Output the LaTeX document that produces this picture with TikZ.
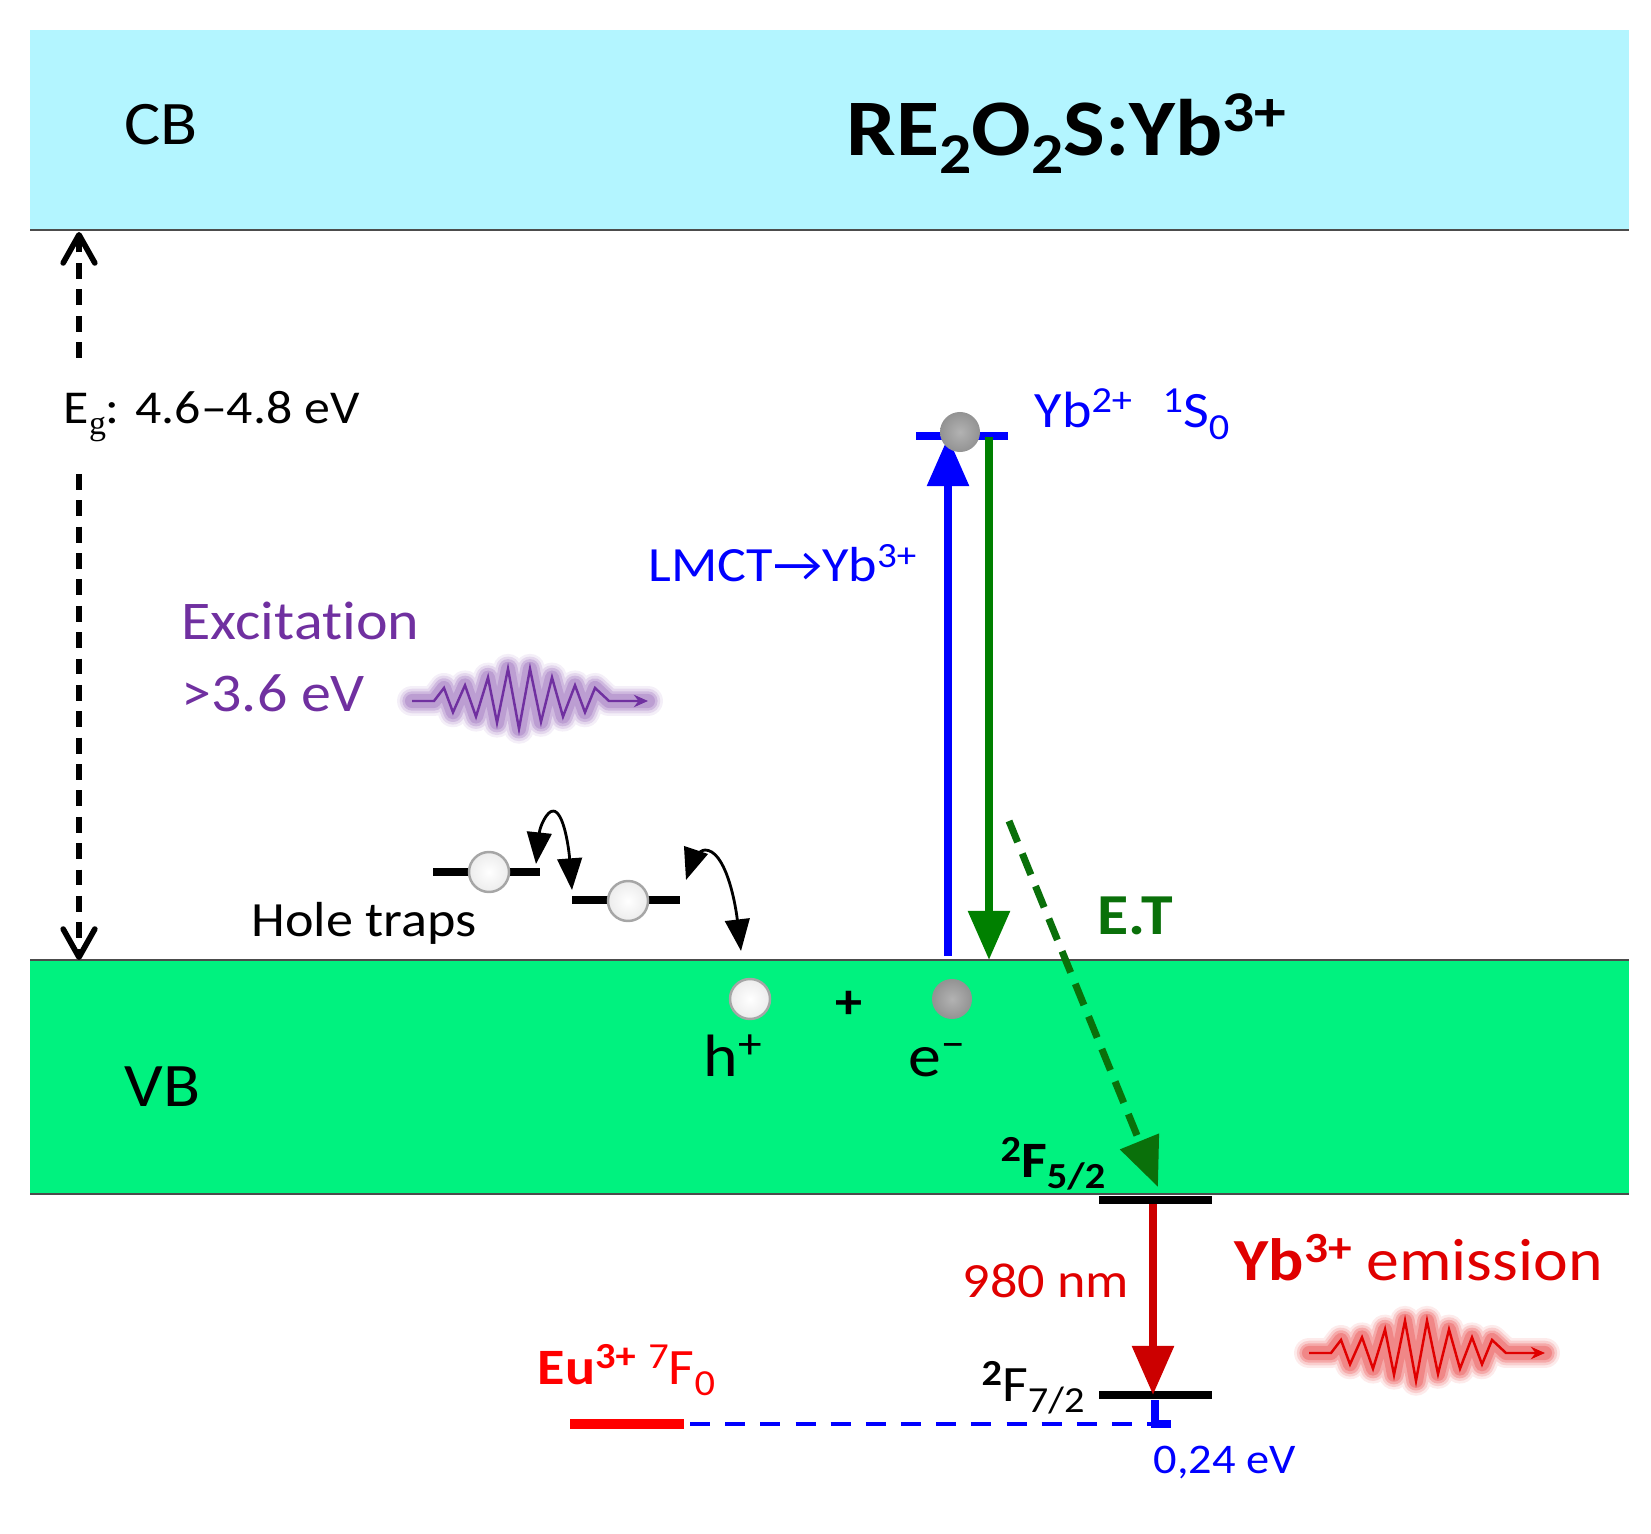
\documentclass[tikz,border=0pt]{standalone}
\usepackage{fontspec}
\setmainfont[FakeStretch=1.1,Ligatures=NoCommon]{Carlito}
\newfontfamily\subserif{Liberation Serif}
\usetikzlibrary{arrows.meta}
\definecolor{cbfill}{HTML}{B3F5FF}
\definecolor{vbfill}{HTML}{00F27F}
\definecolor{excviolet}{HTML}{7030A0}
\definecolor{etgreen}{HTML}{008000}
\definecolor{etdark}{HTML}{0A700A}
\definecolor{emred}{HTML}{E00000}
\definecolor{arrowred}{HTML}{CC0000}
\newcommand{\fs}[1]{\fontsize{#1}{#1}\selectfont}
\makeatletter
\newcommand{\smallsize}{\fontsize{\strip@pt\dimexpr.72\dimexpr\f@size pt\relax\relax}{0}\selectfont}
\makeatother
\newcommand{\up}[1]{\raisebox{.3em}{\smallsize #1}}
\newcommand{\dn}[1]{\raisebox{-.22em}{\smallsize #1}}
\newcommand{\wavepath}{(0,0) -- (22,0) -- (32,-15) -- (41,13) -- (53,-18) -- (64,18) -- (76,-27) -- (85,25) -- (96,-37) -- (107,32) -- (118,-37) -- (129,24) -- (140,-27) -- (151,18) -- (163,-18) -- (173,13) -- (183,-15) -- (197,0) -- (236,0)}
\newcommand{\wavepulse}[2]{
  \begin{scope}[shift={#1}, yscale=.87]
    \foreach \glow/\veil in {8.5pt/.08, 7pt/.12, 5.5pt/.18, 4pt/.2}
      \draw[#2, line width=\glow, opacity=\veil, line join=round, line cap=round] \wavepath;
    \draw[#2, line width=.7pt, -{Stealth[length=4pt,width=3.5pt]}] \wavepath;
  \end{scope}
}
\tikzset{
  lab/.style={anchor=base west, inner sep=0pt},
  level/.style={line width=2.3pt},
  holeball/.style={circle, minimum size=40*0.2845pt, inner sep=0pt, shade, shading=radial, inner color=white, outer color=gray!15, draw=gray!70, line width=.7pt},
  elecball/.style={circle, minimum size=40*0.2845pt, inner sep=0pt, shade, shading=radial, inner color=gray!60, outer color=gray!85},
  bigarrow/.style={line width=2.3pt, -{Triangle[length=14pt,width=11.5pt]}},
  hop/.style={black, line width=.8pt, -{Triangle[length=9pt,width=7pt]}},
  gapdash/.style={black, line width=1.6pt, dash pattern=on 4.5pt off 3pt, -{Straight Barb[length=8pt,width=9pt,round]}}
}
\begin{document}
\begin{tikzpicture}[x=0.01cm, y=-0.01cm]
\useasboundingbox (0,0) rectangle (1651,1534);

\fill[cbfill] (30,30) rectangle (1629,230);
\fill[vbfill] (30,960) rectangle (1629,1194);
\draw[black!70, line width=.5pt] (30,230) -- (1629,230);
\draw[black!70, line width=.5pt] (30,960) -- (1629,960);
\draw[black!70, line width=.5pt] (30,1194) -- (1629,1194);

\node[lab, font=\fs{17.6}] (cb) at (124,145) {CB};
\node[lab, font=\fs{17.6}] (vb) at (124,1106) {VB};
\node[lab, font=\fs{22.8}\bfseries] (title) at (846,156) {RE\dn{2}O\dn{2}S:Yb\up{3+}};

\coordinate (egtop) at (79,232);
\coordinate (egupper) at (79,358);
\coordinate (eglower) at (79,474);
\coordinate (egbot) at (79,960);
\draw[gapdash] (egupper) -- (egtop);
\draw[gapdash] (eglower) -- (egbot);
\node[lab, font=\fs{13.4}] (eg) at (63,424) {E\dn{\subserif g}: 4.6–4.8 eV};

\coordinate (ybl) at (916,436);
\coordinate (ybr) at (1008,436);
\draw[blue, level] (ybl) -- (ybr);
\coordinate (lmctfoot) at (948,956);
\coordinate (lmcttip) at (948,437);
\draw[blue, bigarrow] (lmctfoot) -- (lmcttip);
\coordinate (ettop) at (989,437);
\coordinate (etfoot) at (989,960);
\draw[etgreen, bigarrow] (ettop) -- (etfoot);
\node[elecball] (ybball) at (960,432) {};
\node[lab, blue, font=\fs{14.5}] (yblab) at (1034,428) {Yb\up{2+}\hspace{.6em}\up{1}S\dn{0}};
\node[lab, blue, font=\fs{14}] (lmct) at (648,582) {LMCT→Yb\up{3+}};

\node[lab, excviolet, font=\fs{15.5}] (exc) at (181,640) {Excitation};
\node[lab, excviolet, font=\fs{15.5}] (excev) at (181,712) {>3.6 eV};
\wavepulse{(412,701)}{excviolet}

\coordinate (traponel) at (433,872);
\coordinate (traponer) at (540,872);
\coordinate (traptwol) at (572,900);
\coordinate (traptwor) at (680,900);
\draw[level] (traponel) -- (traponer);
\draw[level] (traptwol) -- (traptwor);
\node[holeball] (holeone) at (489,872) {};
\node[holeball] (holetwo) at (628,901) {};
\node[lab, font=\fs{14}] (traps) at (251,936) {Hole traps};

\coordinate (hopa) at (536,864);
\coordinate (hopb) at (572,890);
\coordinate (hopc) at (686,880);
\coordinate (hopd) at (741,951);
\draw[hop] (553,811) .. controls (547,811) and (540,826) .. (hopa);
\draw[hop] (553,811) .. controls (564,811) and (569,850) .. (hopb);
\draw[hop] (705,850) .. controls (699,850) and (692,862) .. (hopc);
\draw[hop] (705,850) .. controls (725,850) and (735,900) .. (hopd);

\node[holeball] (hole) at (750,999) {};
\node[elecball] (elec) at (952,999) {};
\node[font=\fs{14}\bfseries, inner sep=0pt] (plus) at (849,1005) {+};
\node[lab, font=\fs{17}] (hlab) at (703,1076) {h\up{+}};
\node[lab, font=\fs{17}] (elab) at (908,1076) {e\up{−}};

\coordinate (dashtop) at (1009,821);
\coordinate (dashtip) at (1158,1187);
\draw[etdark, line width=2pt, dash pattern=on 6.5pt off 3.5pt, -{Triangle[length=14pt,width=11.5pt]}] (dashtop) -- (dashtip);
\node[lab, etdark, font=\fs{16.5}\bfseries] (et) at (1097,935) {E.T};

\coordinate (fivel) at (1099,1200);
\coordinate (fiver) at (1212,1200);
\coordinate (sevenl) at (1099,1395);
\coordinate (sevenr) at (1212,1395);
\draw[level] (fivel) -- (fiver);
\draw[level] (sevenl) -- (sevenr);
\coordinate (emtop) at (1153,1204);
\coordinate (emtip) at (1153,1395);
\draw[arrowred, bigarrow] (emtop) -- (emtip);
\node[lab, font=\fs{14.5}\bfseries] (five) at (1000,1177) {\up{2}F\dn{5/2}};
\node[lab, font=\fs{14.5}] (seven) at (981,1401) {\up{\bfseries 2}F\dn{7/2}};
\node[lab, emred, font=\fs{14}] (nm) at (962,1297) {980 nm};
\node[lab, emred, font=\fs{17}] (ybem) at (1234,1280) {\textbf{Yb\up{3+}} emission};
\wavepulse{(1309,1353)}{emred}

\coordinate (eul) at (570,1424);
\coordinate (eur) at (684,1424);
\coordinate (gapl) at (690,1424);
\coordinate (gapr) at (1155,1424);
\coordinate (gapup) at (1155,1400);
\coordinate (gapend) at (1171,1424);
\draw[red, line width=3pt] (eul) -- (eur);
\draw[blue, line width=1.4pt, dash pattern=on 5.7pt off 4.3pt] (gapl) -- (gapr);
\draw[blue, line width=2.2pt] (gapup) -- (gapr) -- (gapend);
\node[lab, red, font=\fs{14.5}] (eu) at (537,1384) {\textbf{Eu\up{3+}} \up{7}F\dn{0}};
\node[lab, blue, font=\fs{12}] (gapev) at (1153,1473) {0,24 eV};
\end{tikzpicture}
\end{document}
